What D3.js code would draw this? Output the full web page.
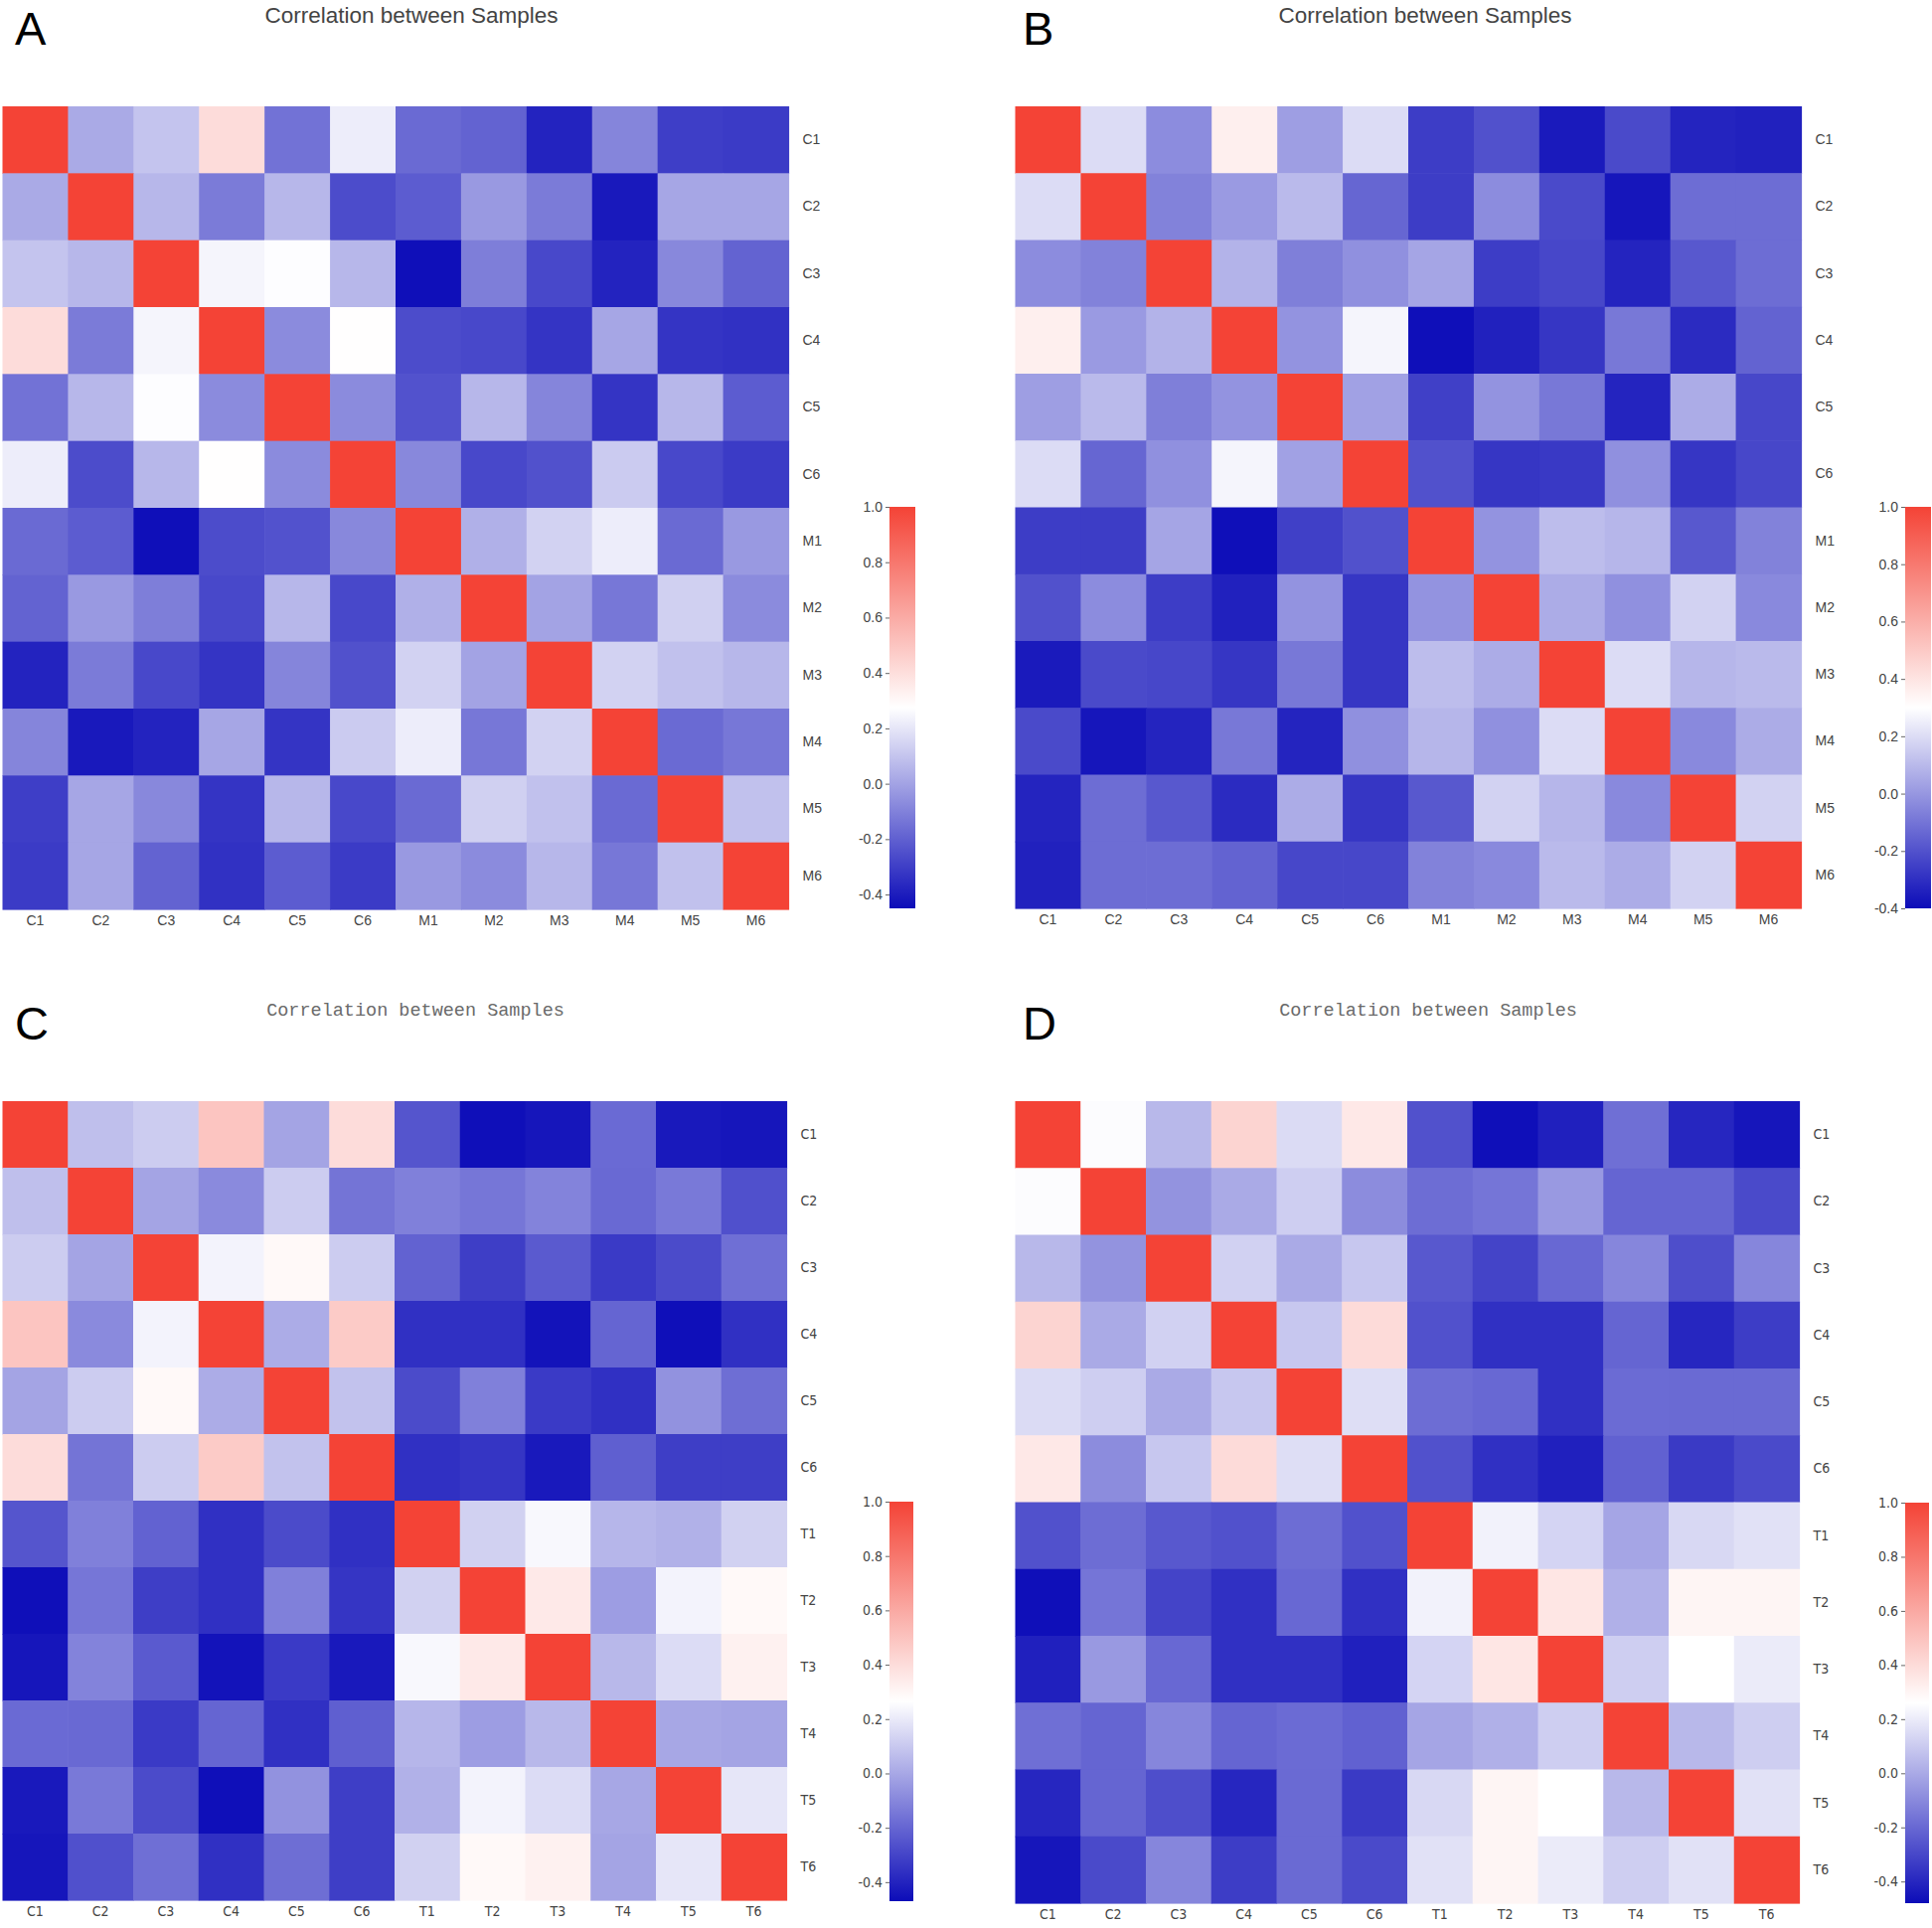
<!DOCTYPE html>
<html>
<head>
<meta charset="utf-8">
<script src="https://cdn.jsdelivr.net/npm/d3@7"></script>
<style>
  body { margin: 0; background: #fff; }
  svg { display: block; }
</style>
</head>
<body>
<main></main>
<script>
const WIDTH = 1944
const HEIGHT = 1940

// sample names
const samplesCM = ['C1', 'C2', 'C3', 'C4', 'C5', 'C6', 'M1', 'M2', 'M3', 'M4', 'M5', 'M6']
const samplesCT = ['C1', 'C2', 'C3', 'C4', 'C5', 'C6', 'T1', 'T2', 'T3', 'T4', 'T5', 'T6']

// correlation matrices
const corrA = [
  [1, 0.02, 0.10, 0.41, -0.145, 0.22, -0.17, -0.19, -0.38, -0.09, -0.30, -0.31],
  [0.02, 1, 0.06, -0.12, 0.06, -0.26, -0.21, -0.03, -0.12, -0.41, 0.01, 0.01],
  [0.10, 0.06, 1, 0.245, 0.27, 0.06, -0.44, -0.11, -0.27, -0.38, -0.08, -0.19],
  [0.41, -0.12, 0.245, 1, -0.07, 0.28, -0.26, -0.27, -0.33, 0.01, -0.33, -0.34],
  [-0.145, 0.06, 0.27, -0.07, 1, -0.07, -0.24, 0.06, -0.09, -0.33, 0.06, -0.21],
  [0.22, -0.26, 0.06, 0.28, -0.07, 1, -0.08, -0.27, -0.245, 0.12, -0.27, -0.31],
  [-0.17, -0.21, -0.44, -0.26, -0.24, -0.08, 1, 0.04, 0.14, 0.22, -0.17, -0.03],
  [-0.19, -0.03, -0.11, -0.27, 0.06, -0.27, 0.04, 1, 0.0, -0.13, 0.135, -0.07],
  [-0.38, -0.12, -0.27, -0.33, -0.09, -0.245, 0.14, 0.0, 1, 0.14, 0.09, 0.06],
  [-0.09, -0.41, -0.38, 0.01, -0.33, 0.12, 0.22, -0.13, 0.14, 1, -0.17, -0.13],
  [-0.30, 0.01, -0.08, -0.33, 0.06, -0.27, -0.17, 0.135, 0.09, -0.17, 1, 0.09],
  [-0.31, 0.01, -0.19, -0.34, -0.21, -0.31, -0.03, -0.07, 0.06, -0.13, 0.09, 1]
]

const corrB = [
  [1, 0.20, -0.03, 0.36, 0.02, 0.20, -0.26, -0.20, -0.36, -0.22, -0.33, -0.34],
  [0.20, 1, -0.06, 0.01, 0.10, -0.14, -0.26, -0.03, -0.22, -0.37, -0.12, -0.12],
  [-0.03, -0.06, 1, 0.08, -0.07, -0.02, 0.04, -0.26, -0.23, -0.33, -0.18, -0.12],
  [0.36, 0.01, 0.08, 1, -0.01, 0.27, -0.39, -0.34, -0.28, -0.09, -0.31, -0.15],
  [0.02, 0.10, -0.07, -0.01, 1, 0.03, -0.25, -0.01, -0.09, -0.33, 0.06, -0.23],
  [0.20, -0.14, -0.02, 0.27, 0.03, 1, -0.20, -0.28, -0.27, -0.02, -0.28, -0.23],
  [-0.26, -0.26, 0.04, -0.39, -0.25, -0.20, 1, -0.01, 0.11, 0.09, -0.18, -0.06],
  [-0.20, -0.03, -0.26, -0.34, -0.01, -0.28, -0.01, 1, 0.06, -0.02, 0.17, -0.04],
  [-0.36, -0.22, -0.23, -0.28, -0.09, -0.28, 0.11, 0.06, 1, 0.20, 0.09, 0.10],
  [-0.22, -0.37, -0.33, -0.09, -0.33, -0.02, 0.09, -0.02, 0.20, 1, -0.04, 0.06],
  [-0.33, -0.12, -0.18, -0.31, 0.06, -0.28, -0.18, 0.17, 0.09, -0.04, 1, 0.17],
  [-0.34, -0.12, -0.12, -0.15, -0.23, -0.23, -0.06, -0.04, 0.10, 0.06, 0.17, 1]
]

const corrC = [
  [1, 0.07, 0.11, 0.49, -0.01, 0.40, -0.25, -0.46, -0.44, -0.185, -0.43, -0.44],
  [0.07, 1, -0.01, -0.09, 0.11, -0.155, -0.12, -0.15, -0.11, -0.19, -0.14, -0.265],
  [0.11, -0.01, 1, 0.23, 0.29, 0.11, -0.21, -0.32, -0.235, -0.33, -0.28, -0.17],
  [0.49, -0.09, 0.23, 1, 0.015, 0.47, -0.36, -0.36, -0.45, -0.20, -0.46, -0.36],
  [-0.01, 0.11, 0.29, 0.015, 1, 0.08, -0.28, -0.12, -0.33, -0.36, -0.065, -0.175],
  [0.40, -0.155, 0.11, 0.47, 0.08, 1, -0.36, -0.345, -0.43, -0.22, -0.32, -0.32],
  [-0.25, -0.12, -0.21, -0.36, -0.28, -0.36, 1, 0.125, 0.245, 0.045, 0.03, 0.125],
  [-0.46, -0.15, -0.32, -0.36, -0.12, -0.345, 0.125, 1, 0.35, -0.03, 0.23, 0.29],
  [-0.44, -0.11, -0.235, -0.45, -0.33, -0.43, 0.245, 0.35, 1, 0.05, 0.16, 0.32],
  [-0.185, -0.19, -0.33, -0.20, -0.36, -0.22, 0.045, -0.03, 0.05, 1, 0.0, -0.01],
  [-0.43, -0.14, -0.28, -0.46, -0.065, -0.32, 0.03, 0.23, 0.16, 0.0, 1, 0.19],
  [-0.44, -0.265, -0.17, -0.36, -0.175, -0.32, 0.125, 0.29, 0.32, -0.01, 0.19, 1]
]

const corrD = [
  [1, 0.25, 0.045, 0.43, 0.15, 0.35, -0.27, -0.47, -0.42, -0.18, -0.40, -0.45],
  [0.25, 1, -0.07, 0.0, 0.11, -0.09, -0.185, -0.16, -0.05, -0.21, -0.21, -0.29],
  [0.045, -0.07, 1, 0.12, 0.0, 0.09, -0.25, -0.31, -0.20, -0.11, -0.28, -0.11],
  [0.43, 0.0, 0.12, 1, 0.09, 0.40, -0.27, -0.37, -0.37, -0.21, -0.40, -0.33],
  [0.15, 0.11, 0.0, 0.09, 1, 0.16, -0.185, -0.20, -0.37, -0.19, -0.195, -0.195],
  [0.35, -0.09, 0.09, 0.40, 0.16, 1, -0.27, -0.37, -0.42, -0.22, -0.34, -0.29],
  [-0.27, -0.185, -0.25, -0.27, -0.185, -0.27, 1, 0.22, 0.13, -0.015, 0.14, 0.17],
  [-0.47, -0.16, -0.31, -0.37, -0.20, -0.37, 0.22, 1, 0.36, 0.02, 0.30, 0.30],
  [-0.42, -0.05, -0.20, -0.37, -0.37, -0.42, 0.13, 0.36, 1, 0.11, 0.26, 0.20],
  [-0.18, -0.21, -0.11, -0.21, -0.19, -0.22, -0.015, 0.02, 0.11, 1, 0.045, 0.11],
  [-0.40, -0.21, -0.28, -0.40, -0.195, -0.34, 0.14, 0.30, 0.26, 0.045, 1, 0.17],
  [-0.45, -0.29, -0.11, -0.33, -0.195, -0.29, 0.17, 0.30, 0.20, 0.11, 0.17, 1]
]

// colour bar range of each panel
const colorMins = [-0.45, -0.40, -0.47, -0.48]
const colorTicks = [1.0, 0.8, 0.6, 0.4, 0.2, 0.0, -0.2, -0.4]
const titleText = 'Correlation between Samples'
const panelLetters = ['A', 'B', 'C', 'D']

// layout (positions only)
const layout = [
  {hx: 2.5, hy: 107, hw: 791, hh: 808, lx: 15, ly: 45, tx: 414, ty: 23, cx: 895, cy: 510, cw: 26, ch: 404, mono: false},
  {hx: 1021.5, hy: 107, hw: 791, hh: 807, lx: 1029, ly: 45, tx: 1434, ty: 23, cx: 1917, cy: 510, cw: 26, ch: 404, mono: false},
  {hx: 2.5, hy: 1108, hw: 789, hh: 804, lx: 15, ly: 1046, tx: 418, ty: 1022, cx: 895, cy: 1511, cw: 24, ch: 402, mono: true},
  {hx: 1021.5, hy: 1108, hw: 789, hh: 807, lx: 1029, ly: 1046, tx: 1437, ty: 1022, cx: 1917, cy: 1512, cw: 24, ch: 403, mono: true}
]

const BLUE = '#0c0cb8'
const WHITE = '#ffffff'
const RED = '#f44336'

const svg = d3.select('main').append('svg')
  .attr('width', WIDTH)
  .attr('height', HEIGHT)

const defs = svg.append('defs')

const drawPanel = (i, labels, matrix) => {
  const L = layout[i]
  const vmin = colorMins[i]
  const vmid = (vmin + 1) / 2
  const color = d3.scaleLinear()
    .domain([vmin, vmid, 1])
    .range([BLUE, WHITE, RED])
    .clamp(true)

  const labelFont = L.mono ? "'DejaVu Sans Condensed', 'DejaVu Sans', sans-serif" : "'Liberation Sans', Arial, sans-serif"

  const g = svg.append('g')

  // panel letter
  g.append('text')
    .attr('x', L.lx)
    .attr('y', L.ly)
    .style('font-family', "'Liberation Sans', Arial, sans-serif")
    .style('font-size', '47px')
    .style('fill', '#000')
    .text(panelLetters[i])

  // title
  g.append('text')
    .attr('x', L.tx)
    .attr('y', L.ty)
    .attr('text-anchor', 'middle')
    .style('font-family', L.mono ? "'Liberation Mono', monospace" : "'Liberation Sans', Arial, sans-serif")
    .style('font-size', L.mono ? '18.5px' : '22.5px')
    .style('fill', L.mono ? '#6a6a6a' : '#444')
    .text(titleText)

  const x = d3.scaleBand().domain(labels).range([L.hx, L.hx + L.hw])
  const y = d3.scaleBand().domain(labels).range([L.hy, L.hy + L.hh])

  const cells = []
  matrix.forEach((row, r) => row.forEach((v, c) => cells.push({r: labels[r], c: labels[c], v: v})))

  g.append('g').selectAll('rect')
    .data(cells)
    .enter()
    .append('rect')
    .attr('x', d => x(d.c))
    .attr('y', d => y(d.r))
    .attr('width', x.bandwidth() + 0.6)
    .attr('height', y.bandwidth() + 0.6)
    .style('fill', d => color(d.v))

  // row labels on the right
  const yAxis = g.append('g')
    .attr('transform', `translate(${L.hx + L.hw + 14},0)`)
    .call(d3.axisRight(y).tickSize(0).tickPadding(0))
  yAxis.select('.domain').remove()
  yAxis.selectAll('text')
    .style('font-family', labelFont)
    .style('font-size', '14px')
    .style('fill', '#444')

  // column labels at the bottom
  const xAxis = g.append('g')
    .attr('transform', `translate(0,${L.hy + L.hh + 6})`)
    .call(d3.axisBottom(x).tickSize(0).tickPadding(0))
  xAxis.select('.domain').remove()
  xAxis.selectAll('text')
    .style('font-family', labelFont)
    .style('font-size', '14px')
    .style('fill', '#444')

  // colour bar
  const gradId = `grad${i}`
  const grad = defs.append('linearGradient')
    .attr('id', gradId)
    .attr('x1', 0).attr('y1', 1).attr('x2', 0).attr('y2', 0)
  grad.selectAll('stop')
    .data([vmin, vmid, 1])
    .enter()
    .append('stop')
    .attr('offset', d => (d - vmin) / (1 - vmin))
    .attr('stop-color', d => color(d))

  g.append('rect')
    .attr('x', L.cx)
    .attr('y', L.cy)
    .attr('width', L.cw)
    .attr('height', L.ch)
    .style('fill', `url(#${gradId})`)

  const cScale = d3.scaleLinear().domain([vmin, 1]).range([L.cy + L.ch, L.cy])
  const cAxis = g.append('g')
    .attr('transform', `translate(${L.cx},0)`)
    .call(d3.axisLeft(cScale)
      .tickValues(colorTicks.filter(t => t >= vmin))
      .tickFormat(d => d.toFixed(1))
      .tickSize(4)
      .tickPadding(3))
  cAxis.select('.domain').remove()
  cAxis.selectAll('line').style('stroke', '#666')
  cAxis.selectAll('text')
    .style('font-family', labelFont)
    .style('font-size', '14px')
    .style('fill', '#444')
}

drawPanel(0, samplesCM, corrA)
drawPanel(1, samplesCM, corrB)
drawPanel(2, samplesCT, corrC)
drawPanel(3, samplesCT, corrD)
</script>
</body>
</html>
